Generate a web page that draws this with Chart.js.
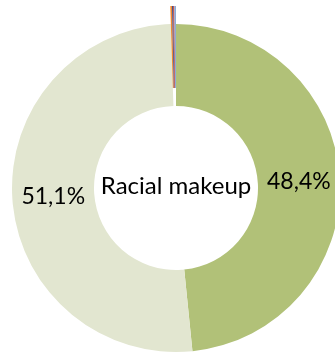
<!DOCTYPE html>
<html>
<head>
<meta charset="utf-8">
<script src="https://cdn.jsdelivr.net/npm/chart.js@4.4.0/dist/chart.umd.min.js"></script>
<style>
  html, body { margin: 0; padding: 0; background: #fff; overflow: hidden; }
  canvas { display: block; }
</style>
</head>
<body>
<canvas id="raceChart" width="335" height="354"></canvas>
<script>
// ===================== Data =====================
const RACE_LABELS = ["Group A", "Group B", "Group C", "Group D", "Group E", "Group F"];
const RACE_SHARES = [48.4, 51.1, 0.15, 0.1, 0.1, 0.15];
const RACE_COLORS = ["#b1c178", "#e2e6d0", "#f08a32", "#3a4f8a", "#c0392f", "#8eaad6"];
const SHOWN_LABELS = ["48,4%", "51,1%", "", "", "", ""];
const CENTER_TITLE = "Racial makeup";

const FONT = "Lato, 'Open Sans', sans-serif";
const EXPLODE = 18; // px the tiny slices are pulled out

// push the tiny slices outward (chart.js "offset" eats thin arcs)
const explodePlugin = {
  id: "explodeSmall",
  afterDatasetsUpdate(chart) {
    const meta = chart.getDatasetMeta(0);
    meta.data.forEach((arc, i) => {
      if (RACE_SHARES[i] < 1) {
        arc.innerRadius += EXPLODE;
        arc.outerRadius += EXPLODE;
      }
    });
  },
};

// labels on the slices + title in the hole
const labelPlugin = {
  id: "sliceLabels",
  afterDraw(chart) {
    const ctx = chart.ctx;
    const meta = chart.getDatasetMeta(0);
    ctx.save();
    ctx.fillStyle = "#000";
    ctx.textAlign = "center";
    ctx.textBaseline = "middle";
    ctx.font = "23px " + FONT;
    meta.data.forEach((arc, i) => {
      if (!SHOWN_LABELS[i]) return;
      const p = arc.getCenterPoint();
      ctx.fillText(SHOWN_LABELS[i], p.x, p.y);
    });
    const first = meta.data[0];
    ctx.font = "24px " + FONT;
    ctx.fillText(CENTER_TITLE, first.x, first.y - 2);
    ctx.restore();
  },
};

new Chart(document.getElementById("raceChart").getContext("2d"), {
  type: "doughnut",
  data: {
    labels: RACE_LABELS,
    datasets: [
      {
        data: RACE_SHARES,
        backgroundColor: RACE_COLORS,
        borderWidth: 0,
      },
    ],
  },
  options: {
    responsive: false,
    animation: false,
    radius: 164,
    cutout: "50%",
    layout: { padding: { left: 17, top: 22, right: 0, bottom: 0 } },
    plugins: {
      legend: { display: false },
      tooltip: { enabled: false },
    },
  },
  plugins: [explodePlugin, labelPlugin],
});
</script>
</body>
</html>
